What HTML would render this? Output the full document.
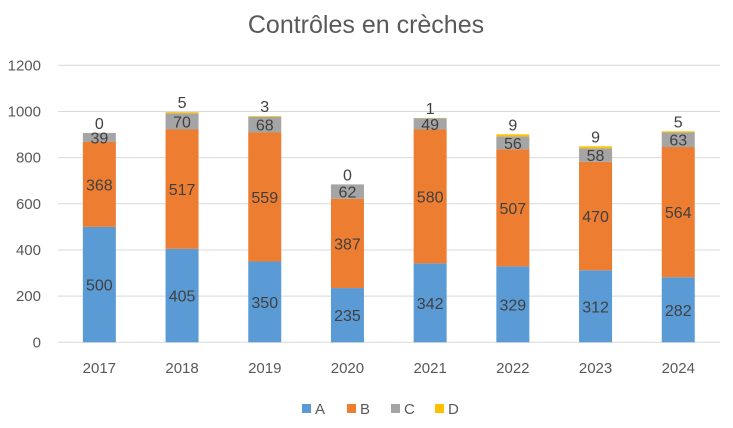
<!DOCTYPE html>
<html><head><meta charset="utf-8"><style>
body{margin:0;background:#fff;}
svg{display:block;font-family:"Liberation Sans",sans-serif;}
</style></head><body>
<svg width="733" height="428" id="chart">
<text x="366" y="33" text-anchor="middle" font-size="25" fill="#595959">Contrôles en crèches</text>
</svg>
<script>
const categories=["2017","2018","2019","2020","2021","2022","2023","2024"];
const seriesA=[500,405,350,235,342,329,312,282];
const seriesB=[368,517,559,387,580,507,470,564];
const seriesC=[39,70,68,62,49,56,58,63];
const seriesD=[0,5,3,0,1,9,9,5];
const yTicks=[0,200,400,600,800,1000,1200];
const seriesNames=["A","B","C","D"];
const colors=["#5b9bd5","#ed7d31","#a5a5a5","#ffc000"];
const svg=document.getElementById('chart');
const NS="http://www.w3.org/2000/svg";
const y0=342.3,y1=65.3,left=58,right=720,step=82.7,bw=33;
function y(v){return y0-(v/1200)*(y0-y1);}
function xc(i){return left+step*(i+0.5);}
function mk(t,a,txt){const e=document.createElementNS(NS,t);for(const k in a)e.setAttribute(k,a[k]);if(txt!==undefined)e.textContent=txt;svg.appendChild(e);return e;}
yTicks.forEach(t=>{
 const l=mk('line',{x1:left,x2:right,y1:y(t),y2:y(t),stroke:'#d9d9d9','stroke-width':1});
 
 
 const tx=mk('text',{x:41,y:y(t)+5,'text-anchor':'end','font-size':15,fill:'#595959'},t);
 
 
});
const all=[seriesA,seriesB,seriesC,seriesD];
categories.forEach((c,i)=>{
 let base=0;
 all.forEach((s,k)=>{
  const v=s[i];
  const r=mk('rect',{x:xc(i)-bw/2,y:y(base+v),width:bw,height:y(base)-y(base+v),fill:colors[k]});
  
  
  let ly = k===3 ? y(base+v)-4 : (y(base)+y(base+v))/2+6;
  const t=mk('text',{x:xc(i),y:ly,'text-anchor':'middle','font-size':16,fill:'#404040'},v);
  
  
  base+=v;
 });
 const xl=mk('text',{x:xc(i),y:373,'text-anchor':'middle','font-size':15,fill:'#595959'},c);
 
 
});
const lx=[302,347,391,435];
seriesNames.forEach((n,k)=>{
 const r=mk('rect',{x:lx[k],y:404,width:9,height:9,fill:colors[k]});
 
 
 const t=mk('text',{x:lx[k]+13,y:414,'font-size':15,fill:'#595959'},n);
 
 
});
</script>
</body></html>
